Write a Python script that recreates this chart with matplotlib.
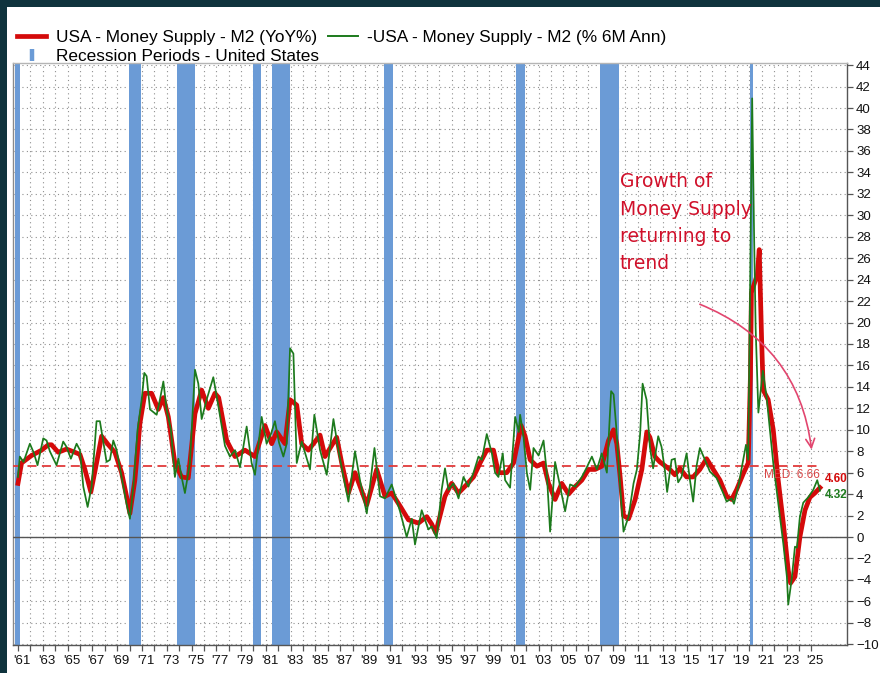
import matplotlib
matplotlib.use('Agg')
import matplotlib.pyplot as plt
from matplotlib.lines import Line2D
from matplotlib.patches import Rectangle
from matplotlib.transforms import ScaledTranslation

plt.rcParams['font.family'] = ['Liberation Sans', 'DejaVu Sans']

# ---------------- data ----------------
red_t = [1961.0, 1961.29, 1962.10, 1962.91, 1963.45, 1963.71, 1964.25, 1964.92, 1965.59, 1966.0,
         1966.40, 1966.88, 1967.34, 1967.75, 1968.29, 1968.82, 1969.36, 1969.76, 1970.03, 1970.43,
         1970.84, 1971.24, 1971.78, 1972.32, 1972.73, 1973.13, 1973.66, 1974.20, 1974.74, 1975.28,
         1975.82, 1976.36, 1976.89, 1977.19, 1977.84, 1978.51, 1979.31, 1980.12, 1980.93, 1981.47,
         1981.87, 1982.54, 1982.95, 1983.49, 1983.89, 1984.43, 1985.37, 1985.77, 1986.71, 1987.12,
         1987.66, 1988.19, 1989.14, 1989.94, 1990.61, 1991.15, 1991.82, 1992.50, 1993.31, 1993.98,
         1994.38, 1994.70, 1995.45, 1995.99, 1996.54, 1997.21, 1997.75, 1998.28, 1998.82, 1999.36,
         1999.76, 2000.43, 2000.98, 2001.59, 2001.91, 2002.32, 2002.86, 2003.40, 2003.80, 2004.33,
         2004.87, 2005.42, 2005.95, 2006.49, 2007.03, 2007.56, 2008.10, 2008.64, 2009.05, 2009.31,
         2009.58, 2009.85, 2010.26, 2010.79, 2011.33, 2011.73, 2011.98, 2012.38, 2012.78, 2013.59,
         2013.99, 2014.40, 2014.94, 2015.47, 2016.01, 2016.55, 2017.09, 2017.63, 2018.17, 2018.57,
         2018.97, 2019.51, 2019.91, 2020.09, 2020.17, 2020.45, 2020.65, 2020.80, 2020.99, 2021.12,
         2021.52, 2021.93, 2022.33, 2022.74, 2023.14, 2023.33, 2023.68, 2024.08, 2024.49, 2024.89,
         2025.29, 2025.70]
red_v = [5.0, 6.9, 7.6, 8.1, 8.6, 8.6, 7.9, 8.2, 7.9, 7.7,
         6.3, 4.2, 6.9, 9.4, 8.6, 7.9, 6.0, 3.8, 2.2, 5.3,
         10.6, 13.4, 13.4, 11.9, 13.0, 11.2, 6.9, 5.6, 5.5, 11.5,
         13.7, 12.0, 13.4, 13.0, 9.0, 7.5, 8.1, 7.5, 10.4, 8.7,
         9.8, 8.7, 12.8, 12.3, 8.7, 8.1, 9.5, 7.5, 9.3, 6.9,
         4.1, 6.0, 3.0, 6.3, 3.8, 4.1, 2.9, 1.6, 1.3, 1.9,
         1.2, 0.4, 3.8, 5.0, 4.1, 4.9, 5.6, 6.9, 8.1, 8.1,
         6.0, 6.0, 6.9, 10.4, 9.4, 7.2, 6.6, 6.9, 5.0, 3.5,
         5.0, 4.0, 4.7, 5.3, 6.3, 6.3, 6.6, 9.0, 10.0, 8.7,
         5.6, 2.0, 1.7, 3.5, 6.3, 9.8, 9.3, 7.5, 7.0, 6.3,
         5.8, 6.4, 5.6, 5.6, 6.3, 7.3, 6.3, 5.3, 3.8, 3.5,
         4.4, 5.9, 6.9, 15.0, 22.8, 23.8, 24.5, 26.8, 18.5, 13.7,
         12.8, 10.0, 5.3, 1.3, -3.1, -4.3, -3.7, 0.0, 2.5, 3.7,
         4.1, 4.6]

green_t = [1961.0, 1961.15, 1961.45, 1961.96, 1962.26, 1962.58, 1963.04, 1963.31, 1963.57, 1964.11,
           1964.65, 1964.92, 1965.27, 1965.73, 1966.0, 1966.27, 1966.62, 1966.94, 1967.34, 1967.61,
           1968.15, 1968.42, 1968.69, 1968.96, 1969.36, 1969.76, 1970.03, 1970.31, 1970.65, 1970.98,
           1971.19, 1971.38, 1971.65, 1972.19, 1972.45, 1972.73, 1972.99, 1973.34, 1973.66, 1973.94,
           1974.20, 1974.47, 1974.87, 1975.28, 1975.55, 1975.82, 1976.22, 1976.76, 1977.17, 1977.70,
           1978.10, 1978.51, 1978.91, 1979.45, 1979.85, 1980.12, 1980.66, 1981.06, 1981.41, 1981.73,
           1982.06, 1982.41, 1982.68, 1982.95, 1983.22, 1983.49, 1983.89, 1984.56, 1984.91, 1985.37,
           1985.91, 1986.45, 1986.85, 1987.26, 1987.66, 1988.19, 1988.59, 1989.14, 1989.76, 1990.21,
           1990.61, 1991.15, 1991.82, 1992.36, 1992.77, 1993.03, 1993.57, 1994.11, 1994.38, 1994.78,
           1995.18, 1995.45, 1995.73, 1996.13, 1996.54, 1996.94, 1997.34, 1997.75, 1998.15, 1998.42,
           1998.82, 1999.23, 1999.49, 1999.76, 2000.11, 2000.30, 2000.70, 2001.11, 2001.40, 2001.51,
           2001.78, 2002.05, 2002.32, 2002.59, 2003.0, 2003.40, 2003.66, 2003.93, 2004.33, 2004.74,
           2005.14, 2005.54, 2005.95, 2006.49, 2006.89, 2007.30, 2007.70, 2008.10, 2008.51, 2008.85,
           2009.05, 2009.26, 2009.58, 2009.85, 2010.26, 2010.66, 2010.93, 2011.19, 2011.39, 2011.71,
           2011.98, 2012.24, 2012.65, 2012.92, 2013.19, 2013.37, 2013.73, 2013.99, 2014.26, 2014.53,
           2014.94, 2015.21, 2015.47, 2015.74, 2016.01, 2016.42, 2016.82, 2017.36, 2017.89, 2018.17,
           2018.57, 2018.76, 2019.11, 2019.51, 2019.73, 2019.91, 2020.23, 2020.39, 2020.51, 2020.73,
           2021.09, 2021.39, 2021.66, 2021.93, 2022.33, 2022.74, 2023.03, 2023.14, 2023.41, 2023.68,
           2023.84, 2024.08, 2024.35, 2024.75, 2025.16, 2025.48, 2025.70]
green_v = [5.6, 7.5, 7.0, 8.7, 7.9, 6.7, 9.2, 9.0, 8.0, 6.7,
           8.9, 8.4, 7.3, 8.7, 8.1, 4.7, 2.8, 4.7, 10.8, 10.8,
           7.0, 7.2, 9.0, 8.1, 5.6, 3.1, 1.7, 4.7, 10.0, 12.8,
           15.3, 15.0, 11.9, 11.4, 12.8, 14.5, 11.9, 10.0, 5.6, 7.3,
           5.6, 4.1, 6.9, 15.6, 14.3, 11.0, 12.8, 14.9, 12.2, 8.5,
           7.5, 8.1, 6.5, 10.3, 6.9, 5.8, 11.2, 8.7, 9.6, 10.8,
           8.8, 7.5, 8.7, 17.6, 17.1, 6.9, 8.9, 6.3, 11.4, 8.1,
           5.8, 11.0, 8.1, 5.6, 3.3, 8.0, 5.3, 2.2, 8.3, 3.8,
           3.6, 4.9, 2.4, 0.0, 1.7, -0.7, 2.5, 0.7, 1.0, -0.1,
           4.4, 6.4, 4.4, 5.0, 3.6, 5.6, 4.7, 6.0, 7.5, 7.2,
           9.6, 7.8, 6.0, 5.6, 7.8, 5.3, 4.6, 11.2, 9.8, 11.4,
           9.4, 6.0, 4.4, 8.3, 7.6, 9.0, 6.0, 0.5, 7.0, 4.7,
           2.4, 4.9, 4.7, 5.6, 6.5, 7.5, 6.3, 7.8, 6.0, 13.6,
           13.3, 10.3, 4.7, 0.5, 1.9, 5.0, 6.3, 9.6, 14.3, 12.8,
           8.4, 6.4, 9.4, 8.4, 6.2, 4.2, 7.2, 7.3, 5.1, 5.6,
           7.8, 5.3, 3.3, 6.6, 8.3, 7.2, 6.1, 5.5, 4.1, 3.3,
           3.6, 3.1, 4.7, 7.2, 8.6, 7.2, 40.9, 27.7, 19.5, 11.6,
           15.5, 13.1, 10.0, 6.9, 3.2, -0.6, -3.7, -6.3, -4.0, -0.9,
           -1.0, 1.9, 3.2, 3.7, 4.4, 5.3, 4.32]

recession_start = [1960.75, 1969.92, 1973.83, 1980.0, 1981.5, 1990.5, 2001.17, 2007.92, 2020.08]
recession_end = [1961.17, 1970.92, 1975.25, 1980.58, 1982.92, 1991.25, 2001.92, 2009.5, 2020.33]

median_value = 6.66
last_red = 4.60
last_green = 4.32

year_ticks = list(range(1961, 2026))
label_years = list(range(1961, 2026, 2))
y_ticks = list(range(-10, 45, 2))

series_labels = ['USA - Money Supply - M2 (YoY%)',
                 '-USA - Money Supply - M2 (% 6M Ann)',
                 'Recession Periods - United States']
note_text = 'Growth of\nMoney Supply\nreturning to\ntrend'

# ---------------- styles ----------------
RED = '#d40a0a'
GREEN = '#1c7a1c'
BLUE = '#6b9bd6'
BORDER = '#0f333d'

W, H = 880, 673
fig = plt.figure(figsize=(W / 100, H / 100), dpi=100)
fig.patch.set_facecolor('white')

ax = fig.add_axes([13 / W, 28 / H, (847 - 13) / W, (645 - 63) / H])
ax.set_xlim(1960.6, 2027.88)
ax.set_ylim(-10.07, 44.2)

# recession shading
for s, e in zip(recession_start, recession_end):
    ax.axvspan(s, e, color=BLUE, lw=0, zorder=1)

# grid
ax.set_axisbelow(True)
ax.set_xticks(year_ticks)
ax.set_yticks(y_ticks)
ax.grid(True, which='major', linestyle=(0, (1, 3)), color='#8f8f8f', lw=0.8)

# median & zero line
ax.hlines(median_value, ax.get_xlim()[0], red_t[-1], colors='#e03a3a',
          linestyles=(0, (5, 3)), lw=1.3, zorder=3)
ax.axhline(0, color='#555555', lw=1.0, zorder=3)

# series
ax.plot(red_t, red_v, color=RED, lw=3.4, solid_joinstyle='round', zorder=4)
ax.plot(green_t, green_v, color=GREEN, lw=1.25, zorder=5)

# labels on right end
ax.text(red_t[-1], median_value - 0.35, 'MED: %.2f' % median_value, ha='right', va='top',
        fontsize=8.5, color='#d84545', zorder=6)
ax.annotate('%.2f' % last_red, xy=(red_t[-1], red_v[-1]), xytext=(3.5, 6.3),
            textcoords='offset points', ha='left', va='center', fontsize=8.5,
            fontweight='bold', color=RED, zorder=6)
ax.annotate('%.2f' % last_green, xy=(green_t[-1], green_v[-1]), xytext=(3.5, -3.0),
            textcoords='offset points', ha='left', va='center', fontsize=8.5,
            fontweight='bold', color=GREEN, zorder=6)

# handwritten-style note and arrow
ax.text(2009.55, 34.0, note_text, ha='left', va='top', fontsize=13.5,
        family=['DejaVu Sans'], color='#d0102a', linespacing=1.55, zorder=6)
ax.annotate('', xy=(2025.05, 7.9), xytext=(2015.8, 21.8),
            arrowprops=dict(arrowstyle='->', color='#e2456e', lw=1.2,
                            connectionstyle='arc3,rad=-0.3', mutation_scale=16),
            zorder=6)

# axes styling
ax.yaxis.tick_right()
ax.tick_params(axis='y', which='both', left=False, right=True, labelleft=False,
               labelright=True, length=4.5, width=0.9, color='#555555', pad=2,
               labelsize=9.5, labelcolor='#111111')
ax.tick_params(axis='x', which='both', direction='out', length=4.5, width=0.9,
               color='#555555', pad=3, labelsize=9.5, labelcolor='#111111')
ax.set_xticklabels(["'" + str(y)[2:] if y in label_years else '' for y in year_ticks])
offset = ScaledTranslation(4 / 100, 0, fig.dpi_scale_trans)
for lab in ax.get_xticklabels():
    lab.set_transform(lab.get_transform() + offset)

for side, col in [('left', '#8a8a8a'), ('top', '#b5b5b5'), ('right', '#555555'),
                  ('bottom', '#555555')]:
    ax.spines[side].set_color(col)
    ax.spines[side].set_linewidth(1.0)

# legend
h_red = Line2D([], [], color=RED, lw=3.4)
h_green = Line2D([], [], color=GREEN, lw=1.4)
h_rec = Line2D([], [], color=BLUE, marker='|', markersize=9, markeredgewidth=3.2,
               linestyle='none')
fig.legend([h_red, h_rec, h_green], [series_labels[0], series_labels[2], series_labels[1]],
           ncol=2, loc='upper left', bbox_to_anchor=(17 / W, 1 - 30 / H),
           frameon=False, fontsize=12.4, handlelength=1.7, handletextpad=0.55,
           columnspacing=0.55, labelspacing=0.2, borderpad=0, borderaxespad=0)

# dark frame
fig.add_artist(Rectangle((0, 1 - 7 / H), 1, 7 / H, transform=fig.transFigure,
                         color=BORDER, lw=0, zorder=10))
fig.add_artist(Rectangle((0, 0), 7 / W, 1, transform=fig.transFigure,
                         color=BORDER, lw=0, zorder=10))

fig.savefig('out.png', dpi=100, facecolor='white')
